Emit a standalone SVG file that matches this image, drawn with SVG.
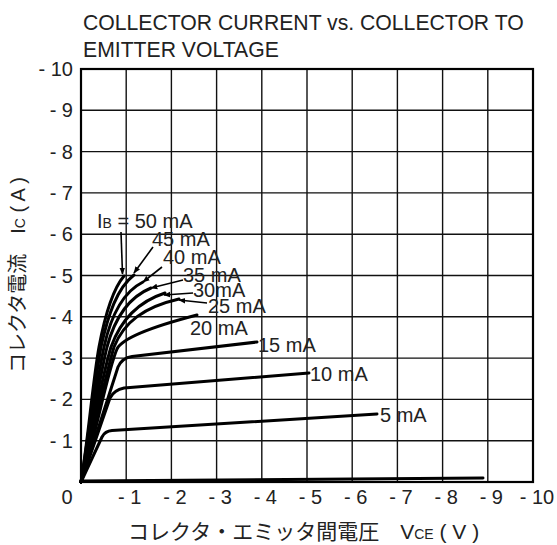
<svg xmlns="http://www.w3.org/2000/svg" width="557" height="545" viewBox="0 0 557 545">
<style>
text{font-family:"Liberation Sans",Arial,sans-serif;fill:#222;}
.jp{font-family:"Liberation Sans","Noto Sans CJK JP",sans-serif;}
.title{font-size:21.2px;}
.tick{font-size:20px;}
.lbl{font-size:20px;}
.grid{stroke:#111;stroke-width:1.4;fill:none;}
.frame{stroke:#000;stroke-width:2.2;fill:none;}
.curve{stroke:#000;stroke-width:3;fill:none;stroke-linecap:round;stroke-linejoin:round;}
.ptr{stroke:#000;stroke-width:1.6;fill:none;}
</style>
<defs>
<marker id="ah" viewBox="0 0 10 10" refX="9" refY="5" markerWidth="7" markerHeight="7" orient="auto" markerUnits="userSpaceOnUse">
<path d="M0,1 L10,5 L0,9 z" fill="#000"/>
</marker>
</defs>
<rect width="557" height="545" fill="#fff"/>
<g id="title">
<text class="title" x="83" y="30">COLLECTOR CURRENT vs. COLLECTOR TO</text>
<text class="title" x="83" y="57">EMITTER VOLTAGE</text>
</g>
<g id="grid">
<path class="grid" d="M126.2,69V482M171.4,69V482M216.6,69V482M261.8,69V482M307,69V482M352.2,69V482M397.4,69V482M442.6,69V482M487.8,69V482"/>
<path class="grid" d="M81,440.7H533M81,399.4H533M81,358.1H533M81,316.8H533M81,275.5H533M81,234.2H533M81,192.9H533M81,151.6H533M81,110.3H533"/>
<rect class="frame" x="81" y="69" width="452" height="413"/>
</g>
<g id="y-ticks" class="tick" text-anchor="end">
<text x="73" y="76">- 10</text>
<text x="73" y="117.3">- 9</text>
<text x="73" y="158.6">- 8</text>
<text x="73" y="199.9">- 7</text>
<text x="73" y="241.2">- 6</text>
<text x="73" y="282.5">- 5</text>
<text x="73" y="323.8">- 4</text>
<text x="73" y="365.1">- 3</text>
<text x="73" y="406.4">- 2</text>
<text x="73" y="447.7">- 1</text>
</g>
<g id="x-ticks" class="tick" text-anchor="middle">
<text x="67" y="504">0</text>
<text x="129.7" y="504">- 1</text>
<text x="174.9" y="504">- 2</text>
<text x="220.1" y="504">- 3</text>
<text x="265.3" y="504">- 4</text>
<text x="310.5" y="504">- 5</text>
<text x="355.7" y="504">- 6</text>
<text x="400.9" y="504">- 7</text>
<text x="446.1" y="504">- 8</text>
<text x="491.3" y="504">- 9</text>
<text x="537" y="504">- 10</text>
</g>
<g id="x-axis-title">
<text class="jp" x="128" y="539" font-size="21">コレクタ・エミッタ間電圧　V<tspan font-size="14">CE</tspan> ( V )</text>
</g>
<g id="y-axis-title">
<text class="jp" transform="translate(25,275) rotate(-90)" text-anchor="middle" font-size="20">コレクタ電流　I<tspan font-size="14">C</tspan> ( A )</text>
</g>
<g id="curves">
<path d="M81,482 C88,440 93,400 96,385 L104,385 L94,440 Z" fill="#000"/>
<path class="curve" d="M81,481 L483,478"/>
<path class="curve" d="M81,482 L102,437 Q105,431 112,430.5 L377,414"/>
<path class="curve" d="M81,482 L110,398 Q114,390 124,388 L309,373"/>
<path class="curve" d="M81,482 L118,367 Q122,358 132,356.5 L257,342"/>
<path class="curve" d="M81,482 C95,440 107,372 117,349 Q124,334 197,315"/>
<path class="curve" d="M81,482 C92,440 103,385 114,347 C124,322 144,307 179,299"/>
<path class="curve" d="M81,482 C91,440 101,380 111,347 C120,322 137,302 165,293"/>
<path class="curve" d="M81,482 C90,440 99,380 107,347 C115,317 129,297 151,288"/>
<path class="curve" d="M81,482 C89,440 97,380 104,347 C111,315 123,292 143,282"/>
<path class="curve" d="M81,482 C88,440 95,380 101,347 C108,315 117,288 134,275"/>
<path class="curve" d="M81,482 C88,440 93,380 99,347 C105,315 112,290 124,276"/>
</g>
<g id="connectors">
<path class="ptr" marker-end="url(#ah)" d="M121,232 L122.5,274"/>
<path class="ptr" marker-end="url(#ah)" d="M153,247 L134,273"/>
<path class="ptr" marker-end="url(#ah)" d="M162,267 L143,282"/>
<path class="ptr" marker-end="url(#ah)" d="M183,280 L151,288"/>
<path class="ptr" marker-end="url(#ah)" d="M193,293 L164,295"/>
<path class="ptr" marker-end="url(#ah)" d="M207,303 L179,300"/>
</g>
<g id="labels" class="lbl">
<text x="97" y="228">I<tspan font-size="14">B</tspan> = 50 mA</text>
<text x="152" y="246">45 mA</text>
<text x="163" y="264">40 mA</text>
<text x="183" y="282">35 mA</text>
<text x="193" y="297">30mA</text>
<text x="208" y="313">25 mA</text>
<text x="190" y="335">20 mA</text>
<text x="258" y="352">15 mA</text>
<text x="310" y="381">10 mA</text>
<text x="380" y="422">5 mA</text>
</g>
</svg>
